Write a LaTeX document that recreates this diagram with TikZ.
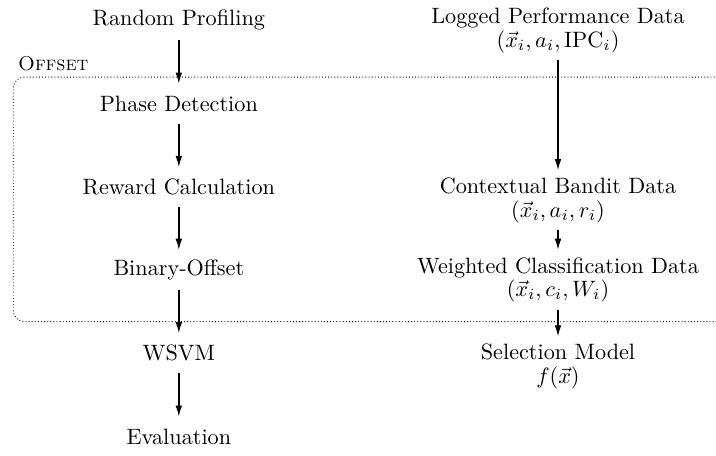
\documentclass[tikz,border=0pt]{standalone}
\usepackage{amsmath,amssymb}
\usetikzlibrary{arrows.meta, positioning, calc}

\tikzset{
    stage/.style={minimum height=0.62cm},
    datum/.style={align=center, anchor=north},
    flow/.style={semithick, -{Latex[length=5pt, width=3pt]}},
}

\begin{document}
\begin{tikzpicture}
    \useasboundingbox (0,0) rectangle (11.33,-7.21);

    % Offset region, open towards the right edge
    \draw[densely dotted, rounded corners=5pt] (11.8,-1.22) -- (0.21,-1.22) -- (0.21,-5.09) -- (11.8,-5.09);
    \node[anchor=base west, inner sep=0pt, font=\small] (offset) at (0.28,-1.11) {\textsc{Offset}};

    % Left pipeline
    \node[stage] (profiling) at (2.83,-0.32) {Random Profiling};
    \node[stage] (phase)     at (2.83,-1.64) {Phase Detection};
    \node[stage] (reward)    at (2.83,-2.96) {Reward Calculation};
    \node[stage] (binary)    at (2.83,-4.27) {Binary-Offset};
    \node[stage] (wsvm)      at (2.83,-5.59) {WSVM};
    \node[stage] (eval)      at (2.83,-6.91) {Evaluation};

    % Right column: data at each step
    \coordinate (rcol) at (8.83,0);
    \node[datum] (logged)     at (rcol |- profiling.north) {Logged Performance Data\\[-1.5pt] $(\vec{x}_i, a_i, \mathrm{IPC}_i)$};
    \node[datum] (bandit)     at ([yshift=-0.05cm]rcol |- reward.north) {Contextual Bandit Data\\[-1.5pt] $(\vec{x}_i, a_i, r_i)$};
    \node[datum] (weighted)   at (rcol |- binary.north) {Weighted Classification Data\\[-1.5pt] $(\vec{x}_i, c_i, W_i)$};
    \node[datum] (selection)  at ([yshift=-0.05cm]rcol |- wsvm.north) {Selection Model\\[-1.5pt] $f(\vec{x})$};

    % Arrows
    \draw[flow] (profiling) -- (phase);
    \draw[flow] (phase) -- (reward);
    \draw[flow] (reward) -- (binary);
    \draw[flow] (binary) -- (wsvm);
    \draw[flow] (wsvm) -- (eval);

    \draw[flow] (logged) -- (bandit);
    \draw[flow] (bandit) -- (weighted);
    \draw[flow] (weighted) -- (selection);
\end{tikzpicture}
\end{document}
